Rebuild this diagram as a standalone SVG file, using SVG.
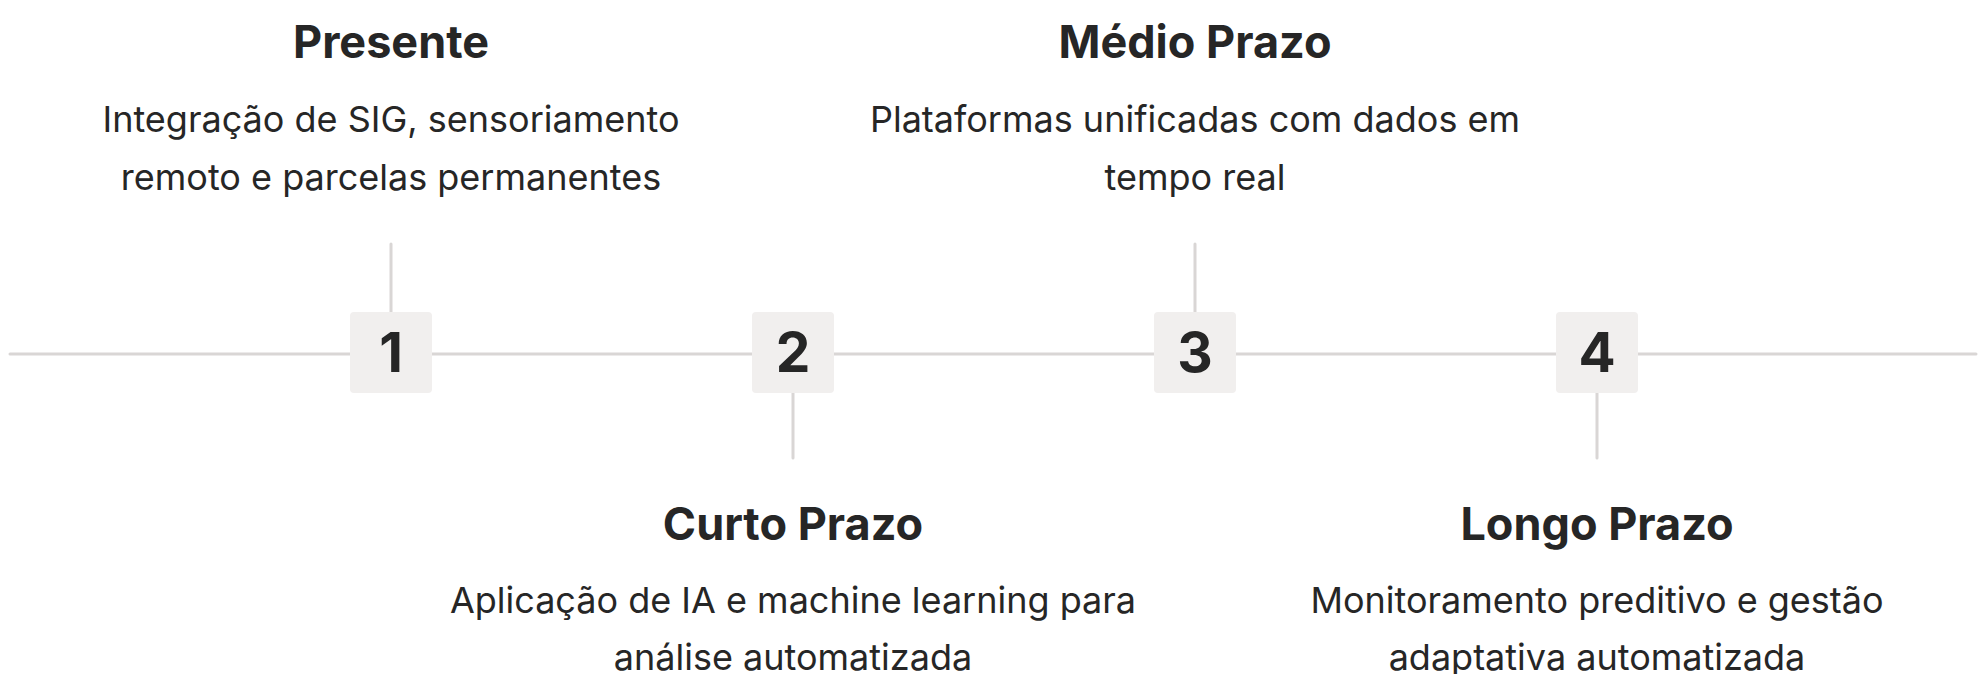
<svg xmlns="http://www.w3.org/2000/svg" width="1985" height="674" viewBox="0 0 1985 674">
<style>
.line{stroke:#d9d6d5;stroke-width:3;stroke-linecap:round;fill:none}
.box{fill:#f1efee}
.num{font-family:Inter,"Liberation Sans",sans-serif;font-weight:700;font-size:55px;fill:#262626;text-anchor:middle}
.title{font-family:Inter,"Liberation Sans",sans-serif;font-weight:700;font-size:45px;fill:#262626;text-anchor:middle}
.desc{font-family:Inter,"Liberation Sans",sans-serif;font-weight:400;font-size:36px;fill:#262626;text-anchor:middle}
</style>
<rect width="1985" height="674" fill="#ffffff"/>
<g id="connectors">
<line class="line" x1="10" y1="354" x2="1976" y2="354"/>
<line class="line" x1="391" y1="244" x2="391" y2="312"/>
<line class="line" x1="793" y1="393" x2="793" y2="458"/>
<line class="line" x1="1195" y1="244" x2="1195" y2="312"/>
<line class="line" x1="1597" y1="393" x2="1597" y2="458"/>
</g>
<g id="node1">
<rect class="box" x="350" y="312" width="82" height="81" rx="4"/>
<text class="num" x="391" y="372">1</text>
<text class="title" x="391" y="58">Presente</text>
<text class="desc" x="391" y="132">Integração de SIG, sensoriamento</text>
<text class="desc" x="391" y="190">remoto e parcelas permanentes</text>
</g>
<g id="node2">
<rect class="box" x="752" y="312" width="82" height="81" rx="4"/>
<text class="num" x="793" y="372">2</text>
<text class="title" x="793" y="540">Curto Prazo</text>
<text class="desc" x="793" y="613">Aplicação de IA e machine learning para</text>
<text class="desc" x="793" y="670">análise automatizada</text>
</g>
<g id="node3">
<rect class="box" x="1154" y="312" width="82" height="81" rx="4"/>
<text class="num" x="1195" y="372">3</text>
<text class="title" x="1195" y="58">Médio Prazo</text>
<text class="desc" x="1195" y="132">Plataformas unificadas com dados em</text>
<text class="desc" x="1195" y="190">tempo real</text>
</g>
<g id="node4">
<rect class="box" x="1556" y="312" width="82" height="81" rx="4"/>
<text class="num" x="1597" y="372">4</text>
<text class="title" x="1597" y="540">Longo Prazo</text>
<text class="desc" x="1597" y="613">Monitoramento preditivo e gestão</text>
<text class="desc" x="1597" y="670">adaptativa automatizada</text>
</g>
</svg>
